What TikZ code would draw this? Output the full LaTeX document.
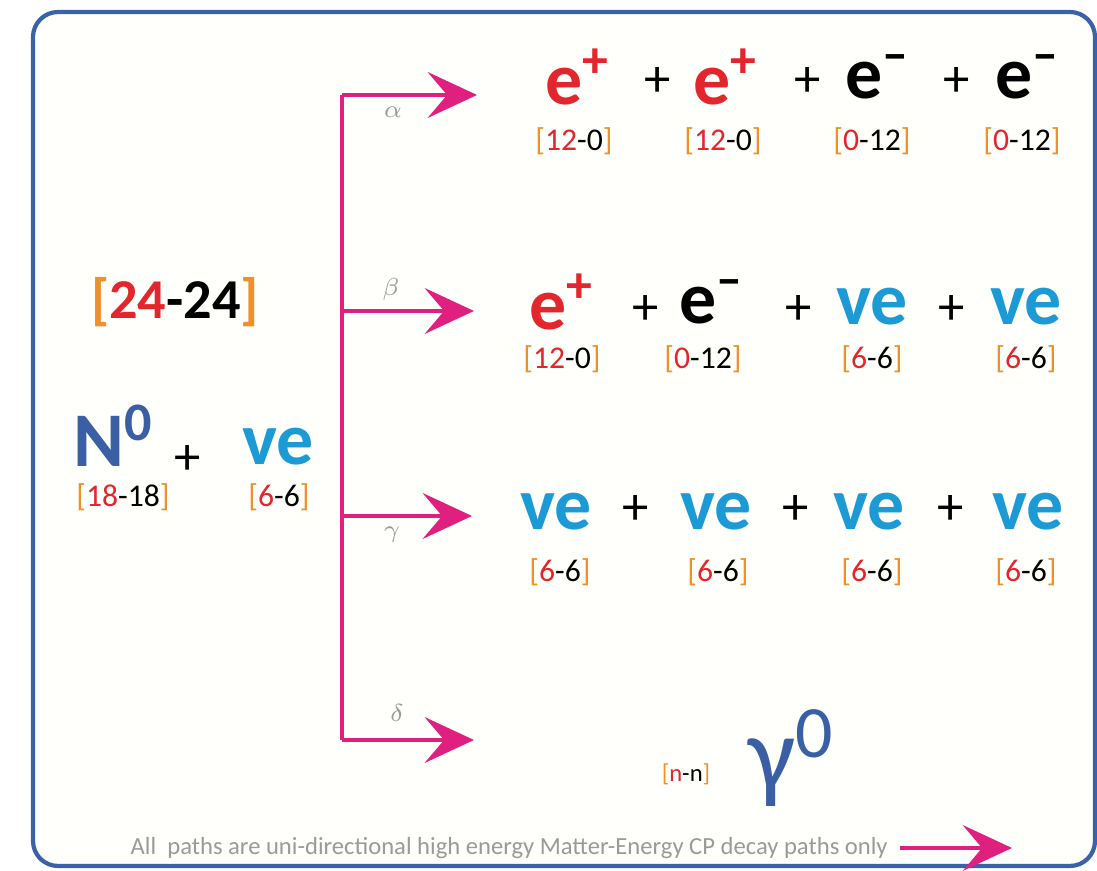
\documentclass[tikz,border=0pt]{standalone}
\usepackage{fontspec}
\setmainfont{Carlito}
\usepackage{tikz}
\usetikzlibrary{arrows.meta}

\definecolor{framebl}{HTML}{3A62A8}
\definecolor{chred}{HTML}{E3262B}
\definecolor{brorange}{HTML}{F0902A}
\definecolor{nucyan}{HTML}{1B9AD6}
\definecolor{nblue}{HTML}{3A5FA5}
\definecolor{pathmag}{HTML}{E0207E}
\definecolor{notegray}{HTML}{9A9A9A}

% charge label [a-b]
\newcommand{\chlbl}[2]{{\color{brorange}[}{\color{chred}#1}-#2{\color{brorange}]}}
\newcommand{\epos}{{\color{chred}e\textsuperscript{+}}}
\newcommand{\eneg}{e\textsuperscript{–}}
\newcommand{\nue}{{\color{nucyan}ve}}

\begin{document}
\begin{tikzpicture}[x=0.01cm, y=-0.01cm,
    particle/.style={font=\fontsize{21}{24}\selectfont\bfseries, inner sep=0pt},
    plussign/.style={font=\fontsize{15}{18}\selectfont, inner sep=0pt},
    charge/.style={font=\fontsize{9}{11}\selectfont, inner sep=0pt},
    greeklbl/.style={text=notegray, font=\fontsize{7}{8}\selectfont, inner sep=0pt},
    decay/.style={pathmag, line width=1.4pt, -{Stealth[length=14pt, width=13pt, inset=5.5pt]}}]
    \useasboundingbox (0,0) rectangle (1097,871);

    % --- 1. frame ---
    \draw[framebl, line width=1.2pt, fill=white!99!yellow, rounded corners=0.25cm]
        (33,12) rectangle (1095,866);

    % --- 2. branch points and arrow tips ---
    \coordinate (top) at (342,95);
    \coordinate (bot) at (342,740);
    \coordinate (bB) at (342,311);
    \coordinate (bC) at (342,516);
    \coordinate (tA) at (477,95);
    \coordinate (tB) at (474,311);
    \coordinate (tC) at (472,516);
    \coordinate (tD) at (474,740);

    \draw[pathmag, line width=1.4pt] (top) -- (bot);
    \draw[decay] (top) -- (tA);
    \draw[decay] (bB) -- (tB);
    \draw[decay] (bC) -- (tC);
    \draw[decay] (bot) -- (tD);

    \node[greeklbl] (la) at (393,112) {$\alpha$};
    \node[greeklbl] (lb) at (391,289) {$\beta$};
    \node[greeklbl] (lg) at (392,535) {$\gamma$};
    \node[greeklbl] (ld) at (397,713) {$\delta$};

    % --- 3. initial state ---
    \node[inner sep=0pt, font=\fontsize{16}{18}\selectfont\bfseries] (tot) at (175,302) {\chlbl{24}{24}};
    \node[inner sep=0pt, text=nblue, font=\fontsize{22}{26}\selectfont\bfseries] (N0) at (114,436) {N\textsuperscript{0}};
    \node[plussign] (p0) at (188,460) {+};
    \node[particle] (nu0) at (278,447) {\nue};
    \node[charge] (cN) at (123,497) {\chlbl{18}{18}};
    \node[charge] (cnu) at (279,497) {\chlbl{6}{6}};

    % --- 4. path alpha ---
    \node[particle] (a1) at (578,77) {\epos};
    \node[plussign] (ap1) at (658,82) {+};
    \node[particle] (a2) at (726,77) {\epos};
    \node[plussign] (ap2) at (808,82) {+};
    \node[particle] (a3) at (878,77) {\eneg};
    \node[plussign] (ap3) at (957,82) {+};
    \node[particle] (a4) at (1028,77) {\eneg};
    \node[charge] (ca1) at (574,141) {\chlbl{12}{0}};
    \node[charge] (ca2) at (723,141) {\chlbl{12}{0}};
    \node[charge] (ca3) at (872,141) {\chlbl{0}{12}};
    \node[charge] (ca4) at (1022,141) {\chlbl{0}{12}};

    % --- 5. path beta ---
    \node[particle] (b1) at (562,302) {\epos};
    \node[plussign] (bp1) at (646,310) {+};
    \node[particle] (b2) at (712,302) {\eneg};
    \node[plussign] (bp2) at (799,310) {+};
    \node[particle] (b3) at (872,307) {\nue};
    \node[plussign] (bp3) at (952,310) {+};
    \node[particle] (b4) at (1026,307) {\nue};
    \node[charge] (cb1) at (562,359) {\chlbl{12}{0}};
    \node[charge] (cb2) at (703,359) {\chlbl{0}{12}};
    \node[charge] (cb3) at (872,359) {\chlbl{6}{6}};
    \node[charge] (cb4) at (1026,359) {\chlbl{6}{6}};

    % --- 6. path gamma ---
    \node[particle] (g1) at (556,512) {\nue};
    \node[plussign] (gp1) at (636,510) {+};
    \node[particle] (g2) at (716,512) {\nue};
    \node[plussign] (gp2) at (796,510) {+};
    \node[particle] (g3) at (869,512) {\nue};
    \node[plussign] (gp3) at (951,510) {+};
    \node[particle] (g4) at (1028,512) {\nue};
    \node[charge] (cg1) at (560,572) {\chlbl{6}{6}};
    \node[charge] (cg2) at (718,572) {\chlbl{6}{6}};
    \node[charge] (cg3) at (872,572) {\chlbl{6}{6}};
    \node[charge] (cg4) at (1026,572) {\chlbl{6}{6}};

    % --- 7. path delta ---
    \node[charge, font=\fontsize{7}{8}\selectfont] (cd) at (686,774) {\chlbl{n}{n}};
    \node[inner sep=0pt, text=nblue, font=\fontsize{30}{32}\selectfont] (gam) at (792,758) {γ\textsuperscript{0}};

    % --- 8. note ---
    \node[text=notegray, font=\fontsize{7}{8}\selectfont, inner sep=0pt, anchor=west] (note) at (130,848)
        {All\ \ paths are uni-directional high energy Matter-Energy CP decay paths only};
    \coordinate (nA) at (900,848);
    \coordinate (nB) at (1012,848);
    \draw[decay, line width=1.1pt] (nA) -- (nB);
\end{tikzpicture}
\end{document}
